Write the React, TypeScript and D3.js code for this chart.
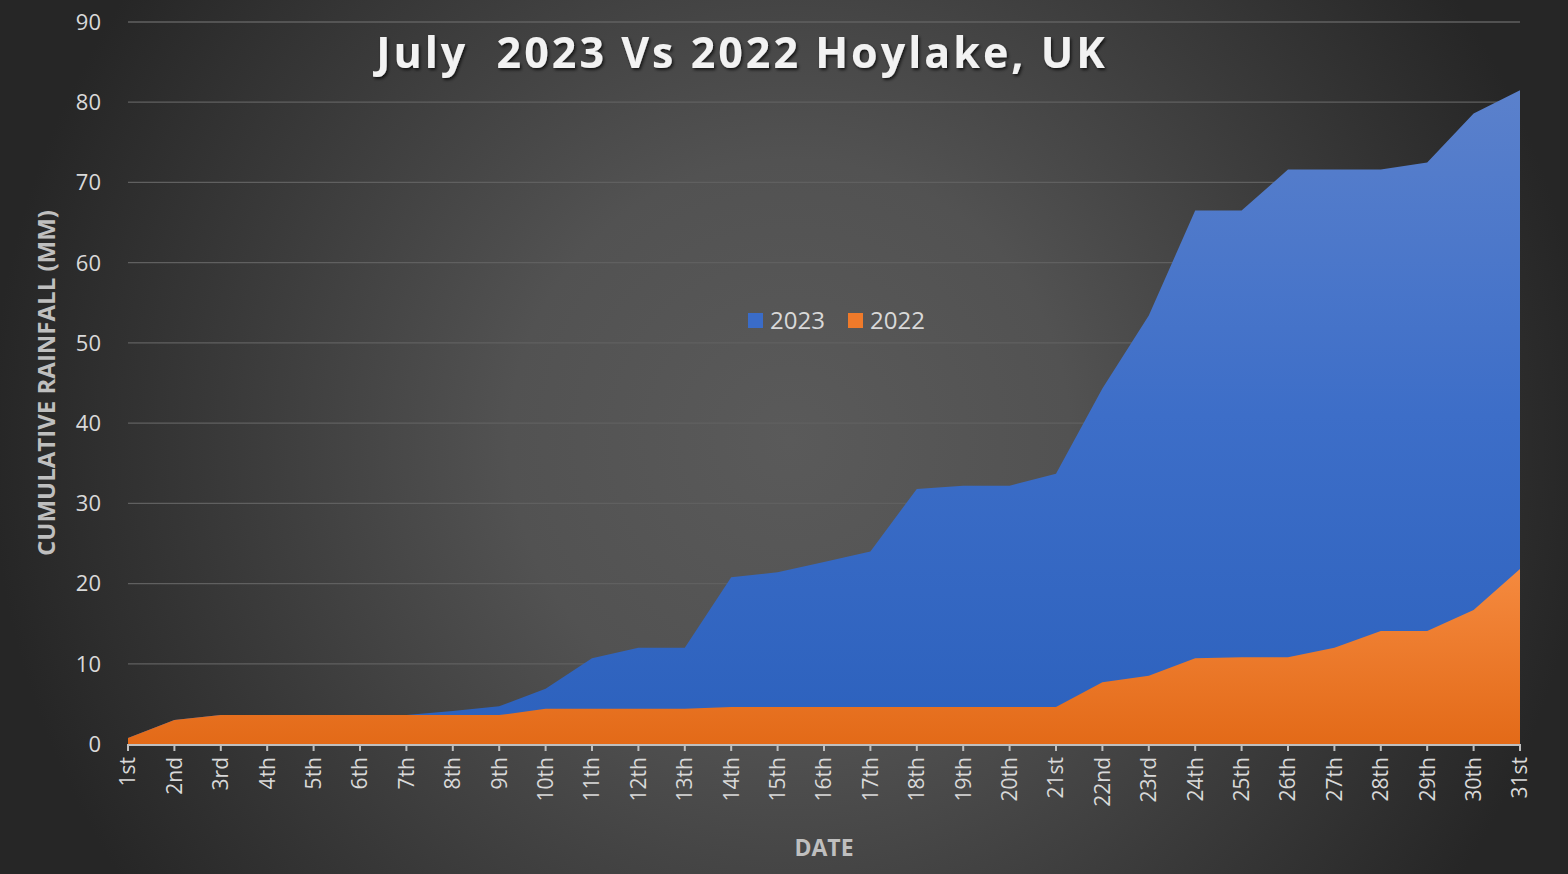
import React from "react";
import * as d3 from "d3";

const days = ["1st","2nd","3rd","4th","5th","6th","7th","8th","9th","10th","11th","12th","13th","14th","15th","16th","17th","18th","19th","20th","21st","22nd","23rd","24th","25th","26th","27th","28th","29th","30th","31st"];
const rain2023 = [0.75,3.0,3.6,3.6,3.6,3.6,3.6,4.1,4.7,6.9,10.7,12.0,12.0,20.8,21.4,22.7,24.0,31.8,32.2,32.2,33.7,44.3,53.4,66.5,66.5,71.6,71.6,71.6,72.5,78.6,81.5];
const rain2022 = [0.75,3.0,3.6,3.6,3.6,3.6,3.6,3.6,3.6,4.4,4.4,4.4,4.4,4.6,4.6,4.6,4.6,4.6,4.6,4.6,4.6,7.7,8.5,10.7,10.8,10.8,12.0,14.1,14.1,16.7,21.8];
const yTicks = [0,10,20,30,40,50,60,70,80,90];
const seriesNames = ["2023","2022"];

const W = 1568, H = 874;
const left = 128, right = 1520, top = 22, bottom = 744;
const FONT = "'Open Sans', 'DejaVu Sans', sans-serif";

export default function App() {
  const x = d3.scalePoint<string>().domain(days).range([left, right]);
  const y = d3.scaleLinear().domain([0, 90]).range([bottom, top]);
  const area = d3.area<number>()
    .x((_, i) => x(days[i]) as number)
    .y0(y(0))
    .y1(d => y(d));

  return (
    <svg width={W} height={H} style={{ position: "absolute", left: 0, top: 0, display: "block" }}>
      <defs>
        <radialGradient id="bg" gradientUnits="userSpaceOnUse" cx={790} cy={440} r={800}>
          <stop offset="0" stopColor="#5a5a5a" />
          <stop offset="0.35" stopColor="#525252" />
          <stop offset="0.7" stopColor="#3a3a3a" />
          <stop offset="1" stopColor="#262626" />
        </radialGradient>
        <linearGradient id="blueG" gradientUnits="userSpaceOnUse" x1={0} y1={y(82)} x2={0} y2={bottom}>
          <stop offset="0" stopColor="#5b81cc" />
          <stop offset="0.5" stopColor="#3d6ec8" />
          <stop offset="1" stopColor="#2c61bd" />
        </linearGradient>
        <linearGradient id="orangeG" gradientUnits="userSpaceOnUse" x1={0} y1={y(22)} x2={0} y2={bottom}>
          <stop offset="0" stopColor="#f58a3f" />
          <stop offset="1" stopColor="#e36a18" />
        </linearGradient>
        <filter id="shadow" x="-10%" y="-30%" width="120%" height="160%">
          <feDropShadow dx="1.5" dy="2" stdDeviation="1.5" floodColor="#000" floodOpacity="0.7" />
        </filter>
      </defs>
      <rect x={0} y={0} width={W} height={H} fill="url(#bg)" />

      {yTicks.map(t => (
        <g key={t}>
          {t > 0 && <line x1={left} x2={right} y1={y(t)} y2={y(t)} stroke="#606060" strokeWidth={1.3} />}
          <text x={101} y={y(t)} dy="0.36em" textAnchor="end" fill="#d9d9d9" fontFamily={FONT} fontSize={22}>{t}</text>
        </g>
      ))}

      <path d={area(rain2023) ?? ""} fill="url(#blueG)" />
      <path d={area(rain2022) ?? ""} fill="url(#orangeG)" />

      <line x1={left} x2={right} y1={bottom + 1} y2={bottom + 1} stroke="#bfbfbf" strokeWidth={2} />
      {days.map(d => (
        <g key={d}>
          <line x1={x(d)} x2={x(d)} y1={bottom} y2={bottom + 7} stroke="#bfbfbf" strokeWidth={2} />
          <text transform={`translate(${(x(d) as number)},${bottom + 13}) rotate(-90)`} dy="0.35em" textAnchor="end" fill="#d9d9d9" fontFamily={FONT} fontSize={21}>{d}</text>
        </g>
      ))}

      <text x={824} y={856} textAnchor="middle" fill="#bfbfbf" fontFamily={FONT} fontWeight="bold" fontSize={23}>DATE</text>
      <text transform={`translate(55,383) rotate(-90)`} textAnchor="middle" fill="#bfbfbf" fontFamily={FONT} fontWeight="bold" fontSize={24}>CUMULATIVE RAINFALL (MM)</text>

      <text x={742} y={68} textAnchor="middle" fill="#f2f2f2" fontFamily={FONT} fontWeight="bold" fontSize={43} letterSpacing={3.0} filter="url(#shadow)" style={{ whiteSpace: "pre" }}>{"July  2023 Vs 2022 Hoylake, UK"}</text>

      <g>
        {seriesNames.map((n, i) => {
          const lx = i === 0 ? 748 : 848;
          return (
            <g key={n}>
              <rect x={lx} y={313} width={15} height={15} fill={i === 0 ? "#3a6cc8" : "#ef7a2a"} />
              <text x={lx + 22} y={320} dy="0.36em" fill="#d9d9d9" fontFamily={FONT} fontSize={24}>{n}</text>
            </g>
          );
        })}
      </g>
    </svg>
  );
}
